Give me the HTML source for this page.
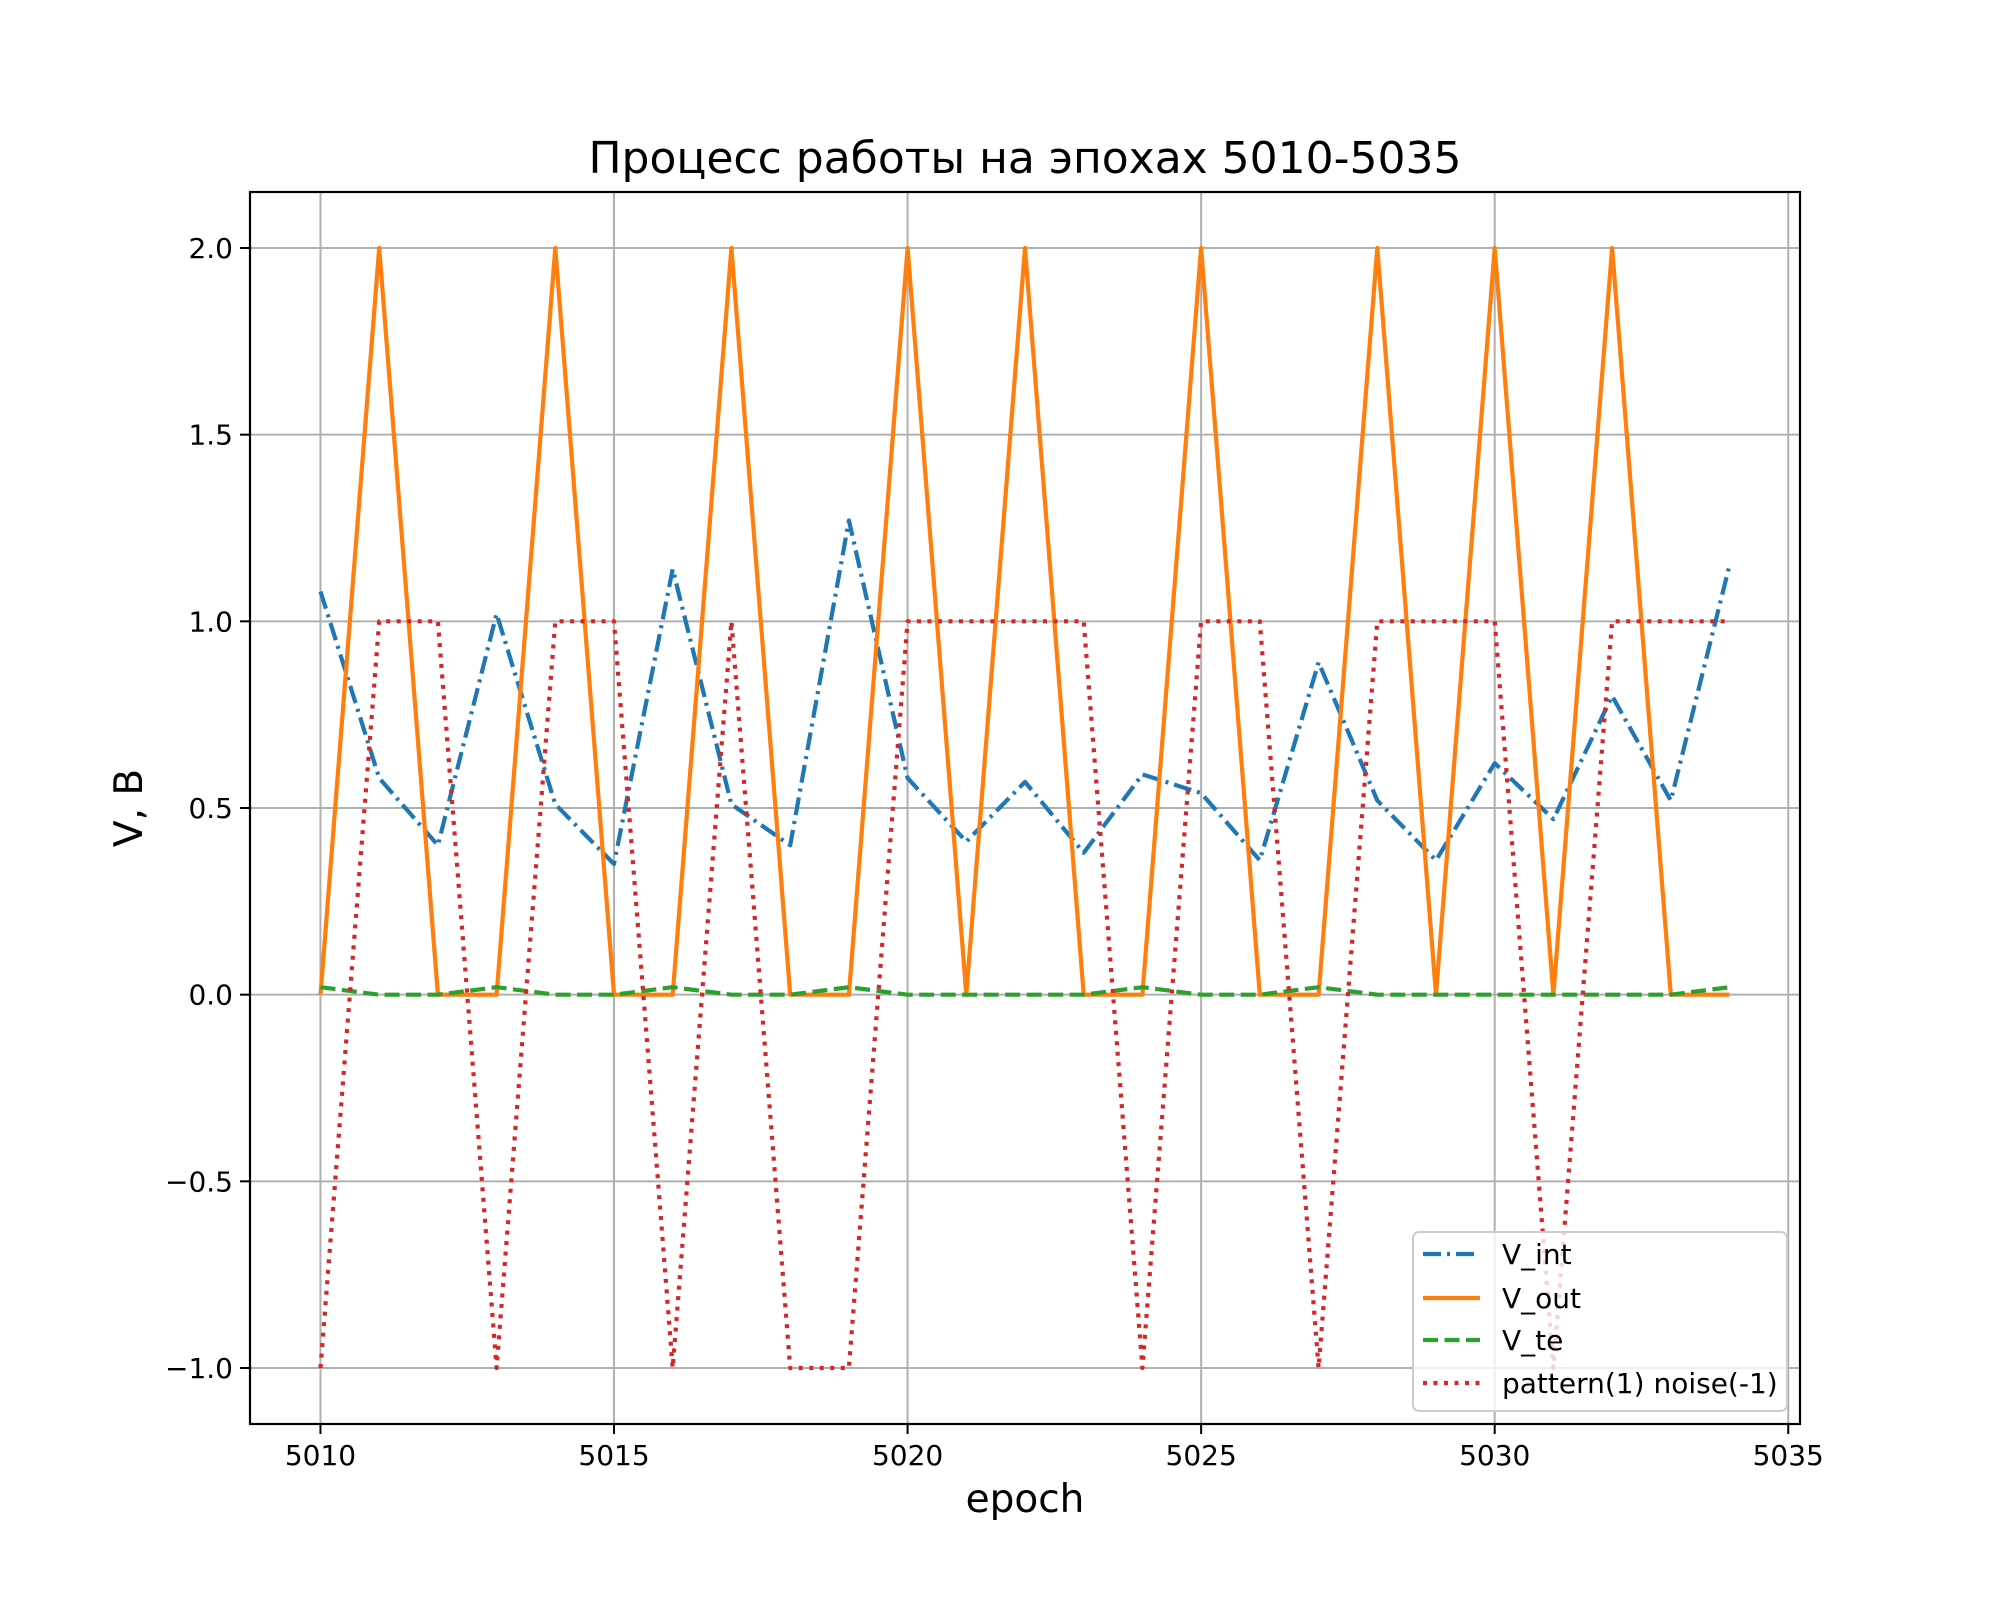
<!DOCTYPE html>
<html><head><meta charset="utf-8"><style>
html,body{margin:0;padding:0;background:#fff;}
svg{display:block;font-family:"DejaVu Sans","Liberation Sans",sans-serif;}
</style></head><body>
<svg id="chart" width="2000" height="1600" viewBox="0 0 2000 1600">
<rect width="2000" height="1600" fill="#fff"/>
<g id="grid"></g>
<g id="series"></g>
<rect x="250" y="192" width="1550" height="1232" fill="none" stroke="#000" stroke-width="2.2"/>
<g id="ticks"></g>
<text x="1025" y="173" text-anchor="middle" font-size="44">Процесс работы на эпохах 5010-5035</text>
<text x="1025" y="1512" text-anchor="middle" font-size="39">epoch</text>
<text transform="translate(142,808) rotate(-90)" text-anchor="middle" font-size="39">V, В</text>
<g id="legend">
<rect x="1413" y="1232" width="374" height="179" rx="6" fill="#fff" fill-opacity="0.8" stroke="#ccc" stroke-width="2"/>
</g>
</svg>
<script>
const epochs=[5010,5011,5012,5013,5014,5015,5016,5017,5018,5019,5020,5021,5022,5023,5024,5025,5026,5027,5028,5029,5030,5031,5032,5033,5034];
const vInt=[1.08,0.58,0.40,1.02,0.51,0.35,1.14,0.51,0.40,1.27,0.58,0.41,0.57,0.38,0.59,0.54,0.36,0.89,0.52,0.36,0.62,0.47,0.80,0.52,1.15];
const vOut=[0,2,0,0,2,0,0,2,0,0,2,0,2,0,0,2,0,0,2,0,2,0,2,0,0];
const vTe=[0.02,0,0,0.02,0,0,0.02,0,0,0.02,0,0,0,0,0.02,0,0,0.02,0,0,0,0,0,0,0.02];
const pattern=[-1,1,1,-1,1,1,-1,1,-1,-1,1,1,1,1,-1,1,1,-1,1,1,1,-1,1,1,1];
const xTicks=[5010,5015,5020,5025,5030,5035];
const yTicks=[-1.0,-0.5,0.0,0.5,1.0,1.5,2.0];
const yTickLabels=["\u22121.0","\u22120.5","0.0","0.5","1.0","1.5","2.0"];
const legendLabels=["V_int","V_out","V_te","pattern(1) noise(-1)"];

const L=250,R=1800,T=192,B=1424,xmin=5008.8,xmax=5035.2,ymin=-1.15,ymax=2.15;
const X=v=>L+(v-xmin)/(xmax-xmin)*(R-L);
const Y=v=>B-(v-ymin)/(ymax-ymin)*(B-T);
const NS="http://www.w3.org/2000/svg";
function mk(tag,attrs,parent){const e=document.createElementNS(NS,tag);for(const k in attrs)e.setAttribute(k,attrs[k]);parent.appendChild(e);return e;}
const grid=document.getElementById('grid'),ticks=document.getElementById('ticks'),ser=document.getElementById('series');
xTicks.forEach(t=>{
  const g=mk('line',{x1:X(t),x2:X(t),y1:T,y2:B,stroke:'#b0b0b0','stroke-width':2},grid);
  
  
  mk('line',{x1:X(t),x2:X(t),y1:B,y2:B+10,stroke:'#000','stroke-width':2},ticks);
  const tx=mk('text',{x:X(t),y:B+41,'text-anchor':'middle','font-size':28},ticks);
  tx.textContent=t;
  
  
});
yTicks.forEach((t,i)=>{
  const g=mk('line',{x1:L,x2:R,y1:Y(t),y2:Y(t),stroke:'#b0b0b0','stroke-width':2},grid);
  
  
  mk('line',{x1:L-10,x2:L,y1:Y(t),y2:Y(t),stroke:'#000','stroke-width':2},ticks);
  const tx=mk('text',{x:L-17,y:Y(t)+10,'text-anchor':'end','font-size':28},ticks);
  tx.textContent=yTickLabels[i];
  
  
});
const styles=[
  {data:vInt,color:'#1f77b4',dash:'18 6 3 6',name:'v-int-line'},
  {data:vOut,color:'#ff7f0e',dash:'',name:'v-out-line'},
  {data:vTe,color:'#2ca02c',dash:'15 6.5',name:'v-te-line'},
  {data:pattern,color:'#d62728',dash:'4 6.5',name:'pattern-line'}
];
styles.forEach((s)=>{
  const d=s.data.map((v,i)=>(i?'L':'M')+X(epochs[i]).toFixed(1)+','+Y(v).toFixed(1)).join(' ');
  const p=mk('path',{d:d,fill:'none',stroke:s.color,'stroke-width':4.2,'stroke-dasharray':s.dash,'stroke-linejoin':'round'},ser);
  
  
});
const lg=document.getElementById('legend');
const ly=[1254,1298,1340,1383];
styles.forEach((s,i)=>{
  const l=mk('line',{x1:1423,x2:1480,y1:ly[i],y2:ly[i],stroke:s.color,'stroke-width':4.2,'stroke-dasharray':s.dash},lg);
  
  
  const t=mk('text',{x:1502,y:ly[i]+10,'font-size':28},lg);
  t.textContent=legendLabels[i];
  
  
});
</script>
</body></html>
